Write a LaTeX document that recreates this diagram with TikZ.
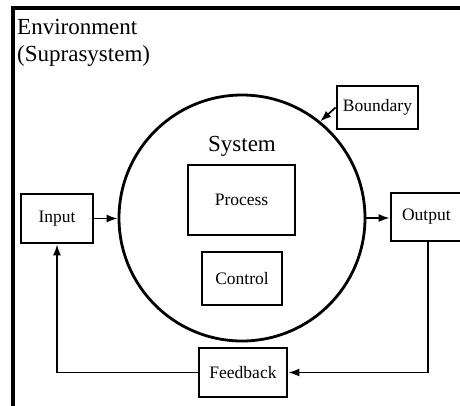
\documentclass[tikz,border=0pt]{standalone}
\usepackage{fontspec}
\setmainfont{Liberation Serif}
\usetikzlibrary{arrows.meta}
\begin{document}
\begin{tikzpicture}[x=1pt,y=-1pt,
  box/.style={draw,line width=2.8pt,rectangle,inner sep=0pt,font=\fontsize{17.5}{20}\selectfont},
  big/.style={inner sep=0pt,font=\fontsize{23}{27}\selectfont},
  conn/.style={line width=1.7pt},
  arr/.style={conn,-{Latex[length=11pt,width=8pt]}}]
\useasboundingbox (0,0) rectangle (460,405);
\clip (0,0) rectangle (460,405);
\fill[white] (0,0) rectangle (460,405);
% environment frame
\draw[line width=3.5pt] (13,406) -- (13,8) -- (461,8);
\node[big,anchor=base west] (env1) at (17,34) {Environment};
\node[big,anchor=base west] (env2) at (17,61) {(Suprasystem)};
% system
\node[draw,circle,line width=2.8pt,minimum size=246pt,inner sep=0pt] (sys) at (242,218) {};
\node[big] (systxt) at (242,146) {System};
\node[box,minimum width=107pt,minimum height=70pt] (process) at (241.5,200) {Process};
\node[box,minimum width=80pt,minimum height=53pt] (control) at (242,278.5) {Control};
\node[box,minimum width=81pt,minimum height=43pt] (boundary) at (377.5,107.5) {Boundary};
\node[box,minimum width=72pt,minimum height=49pt] (input) at (57,218.5) {Input};
\node[box,minimum width=72pt,minimum height=48pt,text width=68pt,align=left] (output) at (427,217) {\hspace*{9pt}Output};
\node[box,minimum width=88pt,minimum height=49pt] (feedback) at (243,372.5) {Feedback};
\coordinate (down) at (428,371);
% connectors
\draw[arr] (boundary.west) -- (sys.51);
\draw[arr] (input.east) -- (input.east -| sys.west);
\draw[arr] (sys.east) -- (sys.east -| output.west);
\draw[arr] (output.south -| down) |- (feedback.east);
\draw[arr] (feedback.west) -| (input.south);
\end{tikzpicture}
\end{document}
